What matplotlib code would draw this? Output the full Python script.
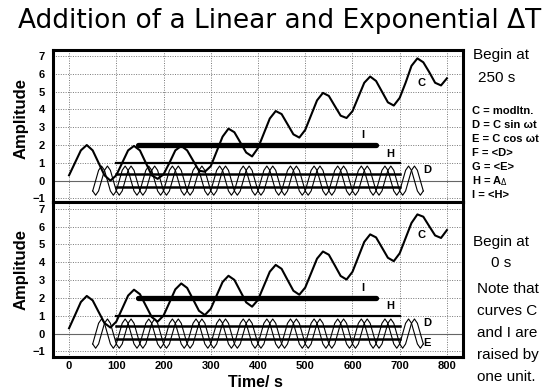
import numpy as np
import matplotlib.pyplot as plt

# sample times in s (the grid the values were read on)
t_c = np.arange(0, 801, 12.5)
t_de = np.arange(50, 751, 6.25)

# curve C, top panel (begin at 250 s)
c_top = [0.30, 1.00, 1.70, 2.00, 1.70, 1.00, 0.30, 0.00,
         0.30, 1.00, 1.70, 1.95, 1.70, 1.00, 0.30, 0.10,
         0.35, 1.00, 1.70, 1.95, 1.70, 1.13, 0.56, 0.50,
         0.81, 1.64, 2.47, 2.92, 2.72, 2.15, 1.58, 1.36,
         1.83, 2.66, 3.49, 3.91, 3.74, 3.17, 2.60, 2.42,
         2.85, 3.68, 4.51, 4.93, 4.76, 4.20, 3.65, 3.52,
         3.90, 4.70, 5.50, 5.85, 5.60, 5.00, 4.40, 4.22,
         4.65, 5.50, 6.45, 6.87, 6.65, 6.10, 5.50, 5.35,
         5.75]

# curve C, bottom panel (begin at 0 s)
c_bot = [0.30, 1.03, 1.77, 2.11, 1.86, 1.22, 0.59, 0.34,
         0.67, 1.40, 2.13, 2.46, 2.21, 1.57, 0.93, 0.67,
         1.01, 1.74, 2.48, 2.81, 2.56, 1.92, 1.28, 1.04,
         1.39, 2.14, 2.89, 3.24, 3.01, 2.38, 1.75, 1.51,
         1.89, 2.68, 3.47, 3.85, 3.63, 3.01, 2.40, 2.18,
         2.58, 3.39, 4.20, 4.60, 4.42, 3.83, 3.23, 3.03,
         3.46, 4.30, 5.14, 5.56, 5.39, 4.82, 4.25, 4.06,
         4.50, 5.35, 6.20, 6.68, 6.55, 6.02, 5.50, 5.36,
         5.80]

# D = C sin wt and E = C cos wt (same in both panels)
d_wave = [-0.58, -0.82, -0.58, 0.0, 0.58, 0.82, 0.58, 0.0,
          -0.58, -0.82, -0.58, 0.0, 0.58, 0.82, 0.58, 0.0,
          -0.58, -0.82, -0.58, 0.0, 0.58, 0.82, 0.58, 0.0,
          -0.58, -0.82, -0.58, 0.0, 0.58, 0.82, 0.58, 0.0,
          -0.58, -0.82, -0.58, 0.0, 0.58, 0.82, 0.58, 0.0,
          -0.58, -0.82, -0.58, 0.0, 0.58, 0.82, 0.58, 0.0,
          -0.58, -0.82, -0.58, 0.0, 0.58, 0.82, 0.58, 0.0,
          -0.58, -0.82, -0.58, 0.0, 0.58, 0.82, 0.58, 0.0,
          -0.58, -0.82, -0.58, 0.0, 0.58, 0.82, 0.58, 0.0,
          -0.58, -0.82, -0.58, 0.0, 0.58, 0.82, 0.58, 0.0,
          -0.58, -0.82, -0.58, 0.0, 0.58, 0.82, 0.58, 0.0,
          -0.58, -0.82, -0.58, 0.0, 0.58, 0.82, 0.58, 0.0,
          -0.58, -0.82, -0.58, 0.0, 0.58, 0.82, 0.58, 0.0,
          -0.58, -0.82, -0.58, 0.0, 0.58, 0.82, 0.58, 0.0,
          -0.58]
e_wave = [-0.58, 0.0, 0.58, 0.82, 0.58, 0.0, -0.58, -0.82,
          -0.58, 0.0, 0.58, 0.82, 0.58, 0.0, -0.58, -0.82,
          -0.58, 0.0, 0.58, 0.82, 0.58, 0.0, -0.58, -0.82,
          -0.58, 0.0, 0.58, 0.82, 0.58, 0.0, -0.58, -0.82,
          -0.58, 0.0, 0.58, 0.82, 0.58, 0.0, -0.58, -0.82,
          -0.58, 0.0, 0.58, 0.82, 0.58, 0.0, -0.58, -0.82,
          -0.58, 0.0, 0.58, 0.82, 0.58, 0.0, -0.58, -0.82,
          -0.58, 0.0, 0.58, 0.82, 0.58, 0.0, -0.58, -0.82,
          -0.58, 0.0, 0.58, 0.82, 0.58, 0.0, -0.58, -0.82,
          -0.58, 0.0, 0.58, 0.82, 0.58, 0.0, -0.58, -0.82,
          -0.58, 0.0, 0.58, 0.82, 0.58, 0.0, -0.58, -0.82,
          -0.58, 0.0, 0.58, 0.82, 0.58, 0.0, -0.58, -0.82,
          -0.58, 0.0, 0.58, 0.82, 0.58, 0.0, -0.58, -0.82,
          -0.58, 0.0, 0.58, 0.82, 0.58, 0.0, -0.58, -0.82,
          -0.58]

# averaged levels and the time spans they cover
i_level = 2.0
i_span = [145, 650]
h_level = 1.0
h_span = [100, 700]
fg_span = [100, 700]
f_top, g_top = 0.38, -0.35
f_bot, g_bot = 0.40, -0.30

x_ticks = [0, 100, 200, 300, 400, 500, 600, 700, 800]
y_ticks = [-1, 0, 1, 2, 3, 4, 5, 6, 7]

legend_lines = ["C = modltn.", "D = C sin \u03c9t", "E = C cos \u03c9t",
                "F = <D>", "G = <E>", "H = A$_{\\Delta}$", "I = <H>"]
note_lines = ["Note that", "curves C", "and I are", "raised by", "one unit."]

plt.rcParams['font.family'] = ['Liberation Sans', 'DejaVu Sans']

fig = plt.figure(figsize=(5.55, 3.91), dpi=100)
ax_top = fig.add_axes([0.0955, 0.4834, 0.7387, 0.3887])
ax_bot = fig.add_axes([0.0955, 0.087, 0.7387, 0.3964])


def draw_panel(ax, c_vals, f_val, g_val, ylim, show_e):
    ax.set_xlim(-34, 834)
    ax.set_ylim(ylim)
    ax.set_xticks(x_ticks)
    ax.set_yticks(y_ticks)
    ax.grid(True, linestyle=(0, (1, 1.5)), color='#777777', linewidth=0.7)
    ax.set_axisbelow(True)
    ax.axhline(0, color='#666666', linewidth=0.8, zorder=1)
    for s in ax.spines.values():
        s.set_linewidth(2.2)
    ax.tick_params(axis='y', length=0, pad=6)
    ax.tick_params(axis='x', length=0, pad=3)
    for lab in ax.get_yticklabels() + ax.get_xticklabels():
        lab.set_fontweight('bold')
        lab.set_fontsize(8)

    # thin carrier curves
    ax.plot(t_de, d_wave, color='black', linewidth=0.8, zorder=3)
    ax.plot(t_de, e_wave, color='black', linewidth=0.8, zorder=3)
    # averages
    ax.plot(fg_span, [f_val, f_val], color='black', linewidth=1.8, zorder=4)
    ax.plot(fg_span, [g_val, g_val], color='black', linewidth=1.8, zorder=4)
    ax.plot(h_span, [h_level, h_level], color='black', linewidth=1.6, zorder=4)
    ax.plot(i_span, [i_level, i_level], color='black', linewidth=3.8,
            solid_capstyle='round', zorder=5)
    # modulation curve
    ax.plot(t_c, c_vals, color='black', linewidth=1.5, zorder=6)

    lab_kw = dict(fontsize=8, fontweight='bold', ha='center', va='center')
    ax.text(747, 5.5, "C", **lab_kw)
    ax.text(622, 2.55, "I", **lab_kw)
    ax.text(681, 1.52, "H", **lab_kw)
    ax.text(758, 0.6, "D", **lab_kw)
    if show_e:
        ax.text(758, -0.5, "E", **lab_kw)


draw_panel(ax_top, c_top, f_top, g_top, (-1.2, 7.34), False)
draw_panel(ax_bot, c_bot, f_bot, g_bot, (-1.31, 7.375), True)
ax_top.set_xticklabels([])

fig.text(0.038, 0.698, "Amplitude", rotation=90, fontsize=12, fontweight='bold',
         ha='center', va='center')
fig.text(0.038, 0.312, "Amplitude", rotation=90, fontsize=12, fontweight='bold',
         ha='center', va='center')
fig.text(0.46, 0.022, "Time/ s", fontsize=11.5, fontweight='bold',
         ha='center', va='center')

fig.text(0.503, 0.947, "Addition of a Linear and Exponential \u0394T",
         fontsize=19, family='DejaVu Sans', ha='center', va='center')

# right hand notes
fig.text(0.852, 1 - 55 / 391, "Begin at", fontsize=11, va='center')
fig.text(0.861, 1 - 78 / 391, "250 s", fontsize=11, va='center')
for k, line in enumerate(legend_lines):
    fig.text(0.85, 1 - (111 + 14 * k) / 391, line, fontsize=8,
             fontweight='bold', va='center')
fig.text(0.852, 1 - 242 / 391, "Begin at", fontsize=11, va='center')
fig.text(0.885, 1 - 263 / 391, "0 s", fontsize=11, va='center')
for k, line in enumerate(note_lines):
    fig.text(0.859, 1 - (289 + 22 * k) / 391, line, fontsize=11, va='center')

fig.savefig('out.png', dpi=100)
